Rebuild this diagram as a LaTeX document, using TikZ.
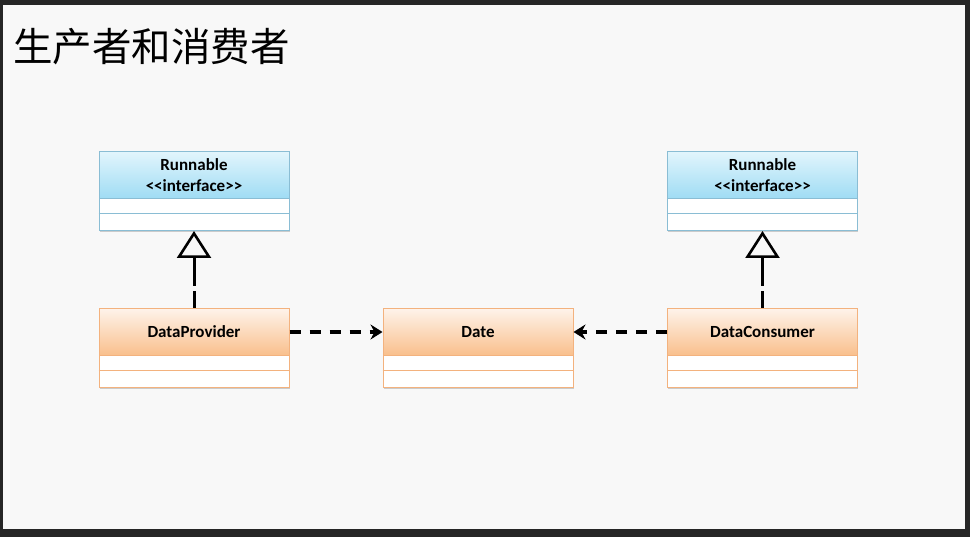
\documentclass[tikz,border=0pt]{standalone}
\usepackage{fontspec}
\newfontfamily\cjk{Noto Sans CJK SC}
\newfontfamily\boxfont{Carlito}
\usetikzlibrary{arrows.meta,shadows}
\definecolor{bgdark}{HTML}{262626}
\definecolor{bglight}{HTML}{F8F8F8}
\definecolor{bluetop}{HTML}{E2F5FC}
\definecolor{bluebot}{HTML}{9FDCF4}
\definecolor{blueline}{HTML}{8ABDD4}
\definecolor{orangetop}{HTML}{FEF3EA}
\definecolor{orangebot}{HTML}{F9BF8C}
\definecolor{orangeline}{HTML}{F3B27E}
\newcommand\umlclass[6]{%
  \node[umlbody, draw=#6] (#1) at (#2,#3) {};
  \node[umlhead, draw=#6, #5] (#1-h) at (#1.north) {#4};
  \draw[#6, line width=1pt] ([yshift=-63pt]#1.north west) -- ([yshift=-63pt]#1.north east);
}
\begin{document}
\begin{tikzpicture}[x=1pt,y=-1pt,
  umlbody/.style={fill=white, line width=1pt, minimum width=190pt, minimum height=79pt,
    inner sep=0pt, anchor=north,
    drop shadow={shadow xshift=0.8pt, shadow yshift=-1.5pt, opacity=0.3, fill=black!60}},
  umlhead/.style={line width=1pt, minimum width=190pt, minimum height=47pt, anchor=north,
    inner sep=0pt, align=center, font=\boxfont\bfseries\fontsize{17}{21}\selectfont},
  bluehead/.style={top color=bluetop, bottom color=bluebot},
  orangehead/.style={top color=orangetop, bottom color=orangebot},
  real/.style={line width=3pt, dash pattern=on 17pt off 5pt on 30pt off 5pt,
    -{Triangle[open, length=27pt, width=34pt, line width=2.6pt]}},
  dep/.style={line width=3.5pt, dash pattern=on 11pt off 9pt,
    -{Stealth[length=12pt, width=15pt, inset=4pt]}}
]
\fill[bgdark] (0,0) rectangle (970,537);
\fill[bglight] (3,5) rectangle (965,529);
\useasboundingbox (0,0) rectangle (970,537);

\node[anchor=base west, inner sep=0pt, font=\cjk\fontsize{39.5}{39.5}\selectfont] (title) at (13,61.5) {生产者和消费者};

\umlclass{run1}{194}{151}{Runnable\\<<interface>>}{bluehead}{blueline}
\umlclass{run2}{762.5}{151}{Runnable\\<<interface>>}{bluehead}{blueline}
\umlclass{prov}{194}{308}{DataProvider}{orangehead}{orangeline}
\umlclass{date}{478}{308}{Date}{orangehead}{orangeline}
\umlclass{cons}{762.5}{308}{DataConsumer}{orangehead}{orangeline}

\draw[real] (prov.north) -- (run1.south);
\draw[real] (cons.north) -- (run2.south);
\draw[dep] (prov-h.east) -- (date-h.west);
\draw[dep] (cons-h.west) -- (date-h.east);
\end{tikzpicture}
\end{document}
